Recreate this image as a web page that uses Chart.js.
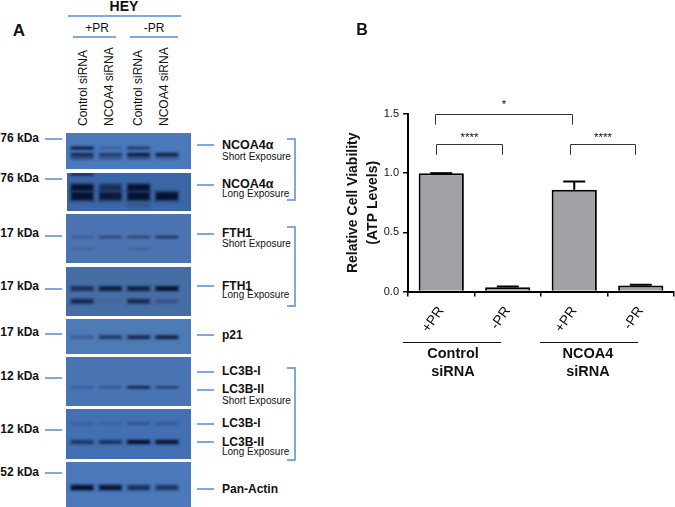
<!DOCTYPE html>
<html>
<head>
<meta charset="utf-8">
<title>HEY NCOA4 siRNA</title>
<script src="https://cdn.jsdelivr.net/npm/chart.js@4"></script>
<style>
  html, body { margin: 0; padding: 0; background: #fff; }
  #page { position: relative; width: 675px; height: 507px; overflow: hidden; font-family: "Liberation Sans", Arial, sans-serif; color: #111; }
  .txt { position: absolute; white-space: nowrap; line-height: 1; }
  .b { font-weight: bold; }
  .rule { position: absolute; background: #7fa8de; }
  .blot { position: absolute; overflow: hidden; }
  .blot canvas { filter: blur(1px); display: block; }
  .side { position: absolute; border: 2px solid #7fa8de; border-left: none; box-sizing: border-box; }
</style>
</head>
<body>
<div id="page">
  <canvas id="viability" width="335" height="400" style="position:absolute;left:340px;top:0"></canvas>
</div>
<script>
// Panel A: lanes, then each blot as band migration (% of panel height), thickness and darkness per lane
const lanes = ['Control +PR', 'NCOA4 +PR', 'Control -PR', 'NCOA4 -PR'];
const laneLabels = ['Control siRNA', 'NCOA4 siRNA', 'Control siRNA', 'NCOA4 siRNA'];
const kdaLabels = ['76 kDa', '76 kDa', '17 kDa', '17 kDa', '17 kDa', '12 kDa', '12 kDa', '52 kDa'];

const ncoa4ShortBands = [42, 60, 70];
const ncoa4ShortThick = [8, 8, 6];
const ncoa4ShortLevels = [[0.75, 0.15, 0.45, 0], [0.7, 0.5, 0.85, 0.8], [0.4, 0.3, 0.35, 0.2]];

const ncoa4LongBands = [2, 38, 61, 86];
const ncoa4LongThick = [8, 15, 19, 8];
const ncoa4LongLevels = [[0.7, 0, 0, 0], [1, 0.55, 1, 0], [1, 0.85, 1, 1], [0, 0, 0.15, 0]];

const fth1ShortBands = [47, 71];
const fth1ShortThick = [5, 5];
const fth1ShortLevels = [[0.15, 0.35, 0.35, 0.5], [0.1, 0, 0.12, 0]];

const fth1LongBands = [44, 70];
const fth1LongThick = [8, 8];
const fth1LongLevels = [[0.6, 0.85, 0.8, 1], [0.7, 0.05, 0.65, 0.2]];

const p21Bands = [52];
const p21Thick = [9];
const p21Levels = [[0.2, 0.55, 0.7, 0.8]];

const lc3ShortBands = [62];
const lc3ShortThick = [5];
const lc3ShortLevels = [[0.15, 0.2, 0.7, 0.4]];

const lc3LongBands = [29, 66];
const lc3LongThick = [5, 7];
const lc3LongLevels = [[0.12, 0.1, 0.22, 0.18], [0.5, 0.55, 1, 0.95]];

const actinBands = [57];
const actinThick = [10];
const actinLevels = [[1, 0.95, 0.6, 0.55]];

// Panel B: values
const viabilityLabels = ['+PR', '-PR', '+PR', '-PR'];
const viabilityValues = [1.0, 0.035, 0.86, 0.05];
const viabilityErrors = [0, 0.008, 0.07, 0.008];
const yTicks = [0, 0.5, 1.0, 1.5];
const bracketStart = [-0.09, -0.08, 1.93];
const bracketEnd = [1.96, 0.91, 2.91];
const bracketTop = [1.5, 1.245, 1.245];
const bracketFoot = [1.41, 1.155, 1.155];
const bracketMarks = ['*', '****', '****'];
const markLevel = [1.575, 1.3, 1.3];

const page = document.getElementById('page');

function addText(str, x, y, size, bold, anchor) {
  const el = document.createElement('div');
  el.className = 'txt' + (bold ? ' b' : '');
  el.textContent = str;
  el.style.fontSize = size + 'px';
  el.style.top = (y - size / 2) + 'px';
  if (anchor === 'right') el.style.right = (675 - x) + 'px';
  else if (anchor === 'center') { el.style.left = x + 'px'; el.style.transform = 'translateX(-50%)'; }
  else el.style.left = x + 'px';
  page.appendChild(el);
}

function addRule(x1, x2, y, h, color) {
  const el = document.createElement('div');
  el.className = 'rule';
  el.style.left = x1 + 'px';
  el.style.width = (x2 - x1) + 'px';
  el.style.top = y + 'px';
  el.style.height = (h || 2) + 'px';
  if (color) el.style.background = color;
  page.appendChild(el);
}

function addBracket(x1, x2, y1, y2) {
  const el = document.createElement('div');
  el.className = 'side';
  el.style.left = x1 + 'px';
  el.style.width = (x2 - x1) + 'px';
  el.style.top = y1 + 'px';
  el.style.height = (y2 - y1) + 'px';
  page.appendChild(el);
}

// One small chart per blot. Each band is a faint wide bar under a darker narrow one
function drawBlot(top, height, left, bg, bands, thick, levels) {
  const box = document.createElement('div');
  box.className = 'blot';
  box.style.left = left + 'px';
  box.style.top = top + 'px';
  box.style.width = (191 - left) + 'px';
  box.style.height = height + 'px';
  box.style.background = bg;
  const cv = document.createElement('canvas');
  cv.width = 191 - left;
  cv.height = height;
  box.appendChild(cv);
  page.appendChild(box);

  const datasets = [];
  bands.forEach((pos, i) => {
    const halo = thick[i] * 0.85;
    datasets.push({
      data: lanes.map(() => [pos - halo, pos + halo]),
      backgroundColor: levels[i].map(v => `rgba(8, 20, 52, ${v * 0.35})`),
      borderWidth: 0,
      barPercentage: 0.9,
      categoryPercentage: 1,
      grouped: false,
    });
    datasets.push({
      data: lanes.map(() => [pos - thick[i] / 2, pos + thick[i] / 2]),
      backgroundColor: levels[i].map(v => `rgba(6, 16, 44, ${v})`),
      borderWidth: 0,
      barPercentage: 0.76,
      categoryPercentage: 1,
      grouped: false,
    });
  });

  new Chart(cv, {
    type: 'bar',
    data: { labels: lanes, datasets },
    options: {
      responsive: false,
      animation: false,
      layout: { padding: { left: 68 - left, right: 10, top: 0, bottom: 0 } },
      plugins: { legend: { display: false }, tooltip: { enabled: false } },
      scales: {
        x: { display: false },
        y: { display: false, min: 0, max: 100, reverse: true },
      },
    },
  });
}

drawBlot(133, 36, 66, '#4b79bb', ncoa4ShortBands, ncoa4ShortThick, ncoa4ShortLevels);
drawBlot(173, 38, 67, '#3c67a6', ncoa4LongBands, ncoa4LongThick, ncoa4LongLevels);
drawBlot(214, 49, 66, '#4d74b2', fth1ShortBands, fth1ShortThick, fth1ShortLevels);
drawBlot(267, 49, 66, '#466ea6', fth1LongBands, fth1LongThick, fth1LongLevels);
drawBlot(319, 35, 66, '#4d7bb6', p21Bands, p21Thick, p21Levels);
drawBlot(357, 49, 66, '#4a75b5', lc3ShortBands, lc3ShortThick, lc3ShortLevels);
drawBlot(409, 50, 66, '#4370b2', lc3LongBands, lc3LongThick, lc3LongLevels);
drawBlot(462, 45, 66, '#4b79bb', actinBands, actinThick, actinLevels);

// Panel A text and rules
addText('HEY', 124, 6, 14, true, 'center');
addRule(68, 181, 15);
addText('A', 19, 30, 17, true, 'center');
addText('+PR', 97, 28, 12, false, 'center');
addRule(73, 116, 36);
addText('-PR', 154, 28, 12, false, 'center');
addRule(130, 178, 36);

[83, 109, 138, 164].forEach((x, i) => {
  const el = document.createElement('div');
  el.className = 'txt';
  el.textContent = laneLabels[i];
  el.style.fontSize = '12px';
  el.style.left = x + 'px';
  el.style.top = '126px';
  el.style.transformOrigin = '0 0';
  el.style.transform = 'rotate(-90deg) translateY(-50%)';
  page.appendChild(el);
});

kdaLabels.forEach((s, i) => {
  addText(s, 39, [138, 178, 233, 286, 332, 376, 429, 472][i], 12, true, 'right');
  addRule(45, 62, [138, 178, 235, 288, 333, 377, 429, 472][i]);
});

[144, 184, 233, 285, 334, 371, 389, 423, 441, 488].forEach(y => addRule(197, 214, y));

addText('NCOA4α', 222, 145, 12.5, true);
addText('Short Exposure', 222, 157, 10, false);
addText('NCOA4α', 222, 184, 12.5, true);
addText('Long Exposure', 222, 194, 10, false);
addText('FTH1', 222, 233, 12, true);
addText('Short Exposure', 222, 244, 10, false);
addText('FTH1', 222, 286, 12, true);
addText('Long Exposure', 222, 295, 10, false);
addText('p21', 222, 335, 12, true);
addText('LC3B-I', 222, 371, 12, true);
addText('LC3B-II', 222, 389, 12, true);
addText('Short Exposure', 222, 401, 10, false);
addText('LC3B-I', 222, 423, 12, true);
addText('LC3B-II', 222, 442, 12, true);
addText('Long Exposure', 222, 452, 10, false);
addText('Pan-Actin', 222, 489, 12, true);

addBracket(287, 296, 138, 201);
addBracket(287, 296, 226, 307);
addBracket(287, 296, 367, 461);

// Panel B text and rules
addText('B', 362, 30, 16, true, 'center');
addRule(403, 501, 342, 1, '#111');
addRule(540, 638, 342, 1, '#111');
addText('Control', 453, 353, 14.5, true, 'center');
addText('siRNA', 453, 371, 14.5, true, 'center');
addText('NCOA4', 588, 353, 14.5, true, 'center');
addText('siRNA', 588, 371, 14.5, true, 'center');

// Error bars and significance brackets, placed through the chart's scales
const annotations = {
  id: 'annotations',
  afterDatasetsDraw(chart) {
    const { ctx, scales: { x, y } } = chart;
    ctx.save();
    ctx.strokeStyle = '#000';
    ctx.lineWidth = 2;
    viabilityValues.forEach((v, i) => {
      const px = x.getPixelForValue(i);
      const top = y.getPixelForValue(v + viabilityErrors[i]);
      ctx.beginPath();
      ctx.moveTo(px, y.getPixelForValue(v));
      ctx.lineTo(px, top);
      ctx.moveTo(px - 11, top);
      ctx.lineTo(px + 11, top);
      ctx.stroke();
    });
    ctx.strokeStyle = '#333';
    ctx.lineWidth = 1;
    ctx.fillStyle = '#111';
    ctx.font = '11.5px "Liberation Sans"';
    ctx.textAlign = 'center';
    ctx.textBaseline = 'middle';
    bracketMarks.forEach((mark, i) => {
      const x1 = Math.round(x.getPixelForValue(bracketStart[i])) + 0.5;
      const x2 = Math.round(x.getPixelForValue(bracketEnd[i])) + 0.5;
      const top = Math.round(y.getPixelForValue(bracketTop[i])) + 0.5;
      const foot = y.getPixelForValue(bracketFoot[i]);
      ctx.beginPath();
      ctx.moveTo(x1, foot);
      ctx.lineTo(x1, top);
      ctx.lineTo(x2, top);
      ctx.lineTo(x2, foot);
      ctx.stroke();
      ctx.fillText(mark, (x1 + x2) / 2, y.getPixelForValue(markLevel[i]));
    });
    ctx.restore();
  },
};

new Chart(document.getElementById('viability'), {
  type: 'bar',
  data: {
    labels: viabilityLabels,
    datasets: [{
      data: viabilityValues,
      backgroundColor: '#a1a1a6',
      borderColor: '#000',
      borderWidth: 2,
      barPercentage: 0.68,
      categoryPercentage: 1,
    }],
  },
  options: {
    responsive: false,
    animation: false,
    layout: { padding: { top: 114, right: 1, left: 0, bottom: 0 } },
    plugins: { legend: { display: false }, tooltip: { enabled: false } },
    scales: {
      x: {
        afterFit(scale) { scale.height = 108.5; },
        grid: { display: true, drawOnChartArea: false, tickLength: 5, tickColor: '#000', lineWidth: 1.5 },
        border: { color: '#000', width: 2 },
        ticks: { color: '#111', font: { family: 'Liberation Sans', size: 14 }, minRotation: 55, maxRotation: 55, padding: 7 },
      },
      y: {
        min: 0,
        max: 1.5,
        afterFit(scale) { scale.width = 68; },
        afterBuildTicks(scale) { scale.ticks = yTicks.map(value => ({ value })); },
        grid: { display: true, drawOnChartArea: false, tickLength: 5, tickColor: '#000', lineWidth: 1.5 },
        border: { color: '#000', width: 2 },
        ticks: { color: '#111', font: { family: 'Liberation Sans', size: 11 }, padding: 4, callback: v => v.toFixed(1) },
        title: {
          display: true,
          text: ['Relative Cell Viability', '(ATP Levels)'],
          color: '#111',
          font: { family: 'Liberation Sans', size: 14, weight: 'bold', lineHeight: 1.45 },
          padding: { top: 3, bottom: 0 },
        },
      },
    },
  },
  plugins: [annotations],
});
</script>
</body>
</html>
